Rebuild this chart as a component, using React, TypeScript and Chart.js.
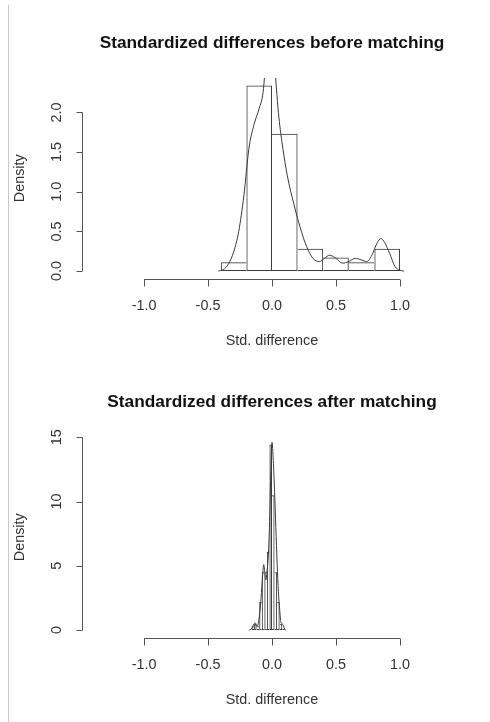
import React, { useEffect, useRef } from 'react';
import { Chart, registerables } from 'chart.js';

Chart.register(...registerables);

// ---------- data ----------
const xTickValues = [-1.0, -0.5, 0.0, 0.5, 1.0];

// Before matching
const beforeBreaks = [-0.4, -0.2, 0.0, 0.2, 0.4, 0.6, 0.8, 1.0];
const beforeDensity = [0.11, 2.34, 1.73, 0.28, 0.17, 0.11, 0.28];
const beforeCurveX = [
  -0.42, -0.38, -0.34, -0.30, -0.26, -0.22, -0.18, -0.14, -0.10, -0.07, -0.04, -0.01,
  0.02, 0.05, 0.08, 0.12, 0.17, 0.22, 0.27, 0.32, 0.37, 0.41, 0.45, 0.50, 0.55, 0.60,
  0.65, 0.70, 0.74, 0.78, 0.82, 0.85, 0.88, 0.92, 0.96, 1.00, 1.03,
];
const beforeCurveY = [
  0.0, 0.02, 0.09, 0.24, 0.50, 0.95, 1.55, 1.85, 2.05, 2.25, 2.8, 3.1,
  2.6, 2.0, 1.6, 1.2, 0.85, 0.55, 0.31, 0.16, 0.12, 0.16, 0.2, 0.16, 0.10, 0.12,
  0.16, 0.14, 0.12, 0.2, 0.35, 0.41, 0.36, 0.22, 0.06, 0.01, 0.0,
];
const beforeYTicks = [0.0, 0.5, 1.0, 1.5, 2.0];

// After matching
const afterBreaks = [
  -0.16, -0.14, -0.12, -0.10, -0.08, -0.06, -0.04, -0.02, 0.0, 0.02, 0.04, 0.06, 0.08, 0.10,
];
const afterDensity = [0.3, 0.5, 0.3, 2.2, 4.5, 4.5, 6.1, 14.45, 10.5, 4.5, 2.2, 0.5, 0.1];
const afterCurveX = [
  -0.18, -0.16, -0.14, -0.13, -0.12, -0.11, -0.10, -0.09, -0.08, -0.07, -0.065, -0.055,
  -0.047, -0.04, -0.03, -0.02, -0.01, 0.0, 0.01, 0.02, 0.03, 0.04, 0.05, 0.06, 0.07,
  0.08, 0.09, 0.10, 0.11,
];
const afterCurveY = [
  0.0, 0.1, 0.5, 0.55, 0.3, 0.4, 1.0, 1.9, 3.3, 4.7, 5.1, 4.4,
  3.9, 4.5, 5.6, 8.0, 12.0, 14.6, 13.2, 10.8, 8.0, 5.2, 3.0, 1.6, 0.6,
  0.5, 0.3, 0.05, 0.0,
];
const afterYTicks = [0, 5, 10, 15];

// ---------- helpers ----------
const FONT = '"Liberation Sans", Arial, Helvetica, sans-serif';

type PanelProps = {
  title: string;
  breaks: number[];
  density: number[];
  curveX: number[];
  curveY: number[];
  yTicks: number[];
  yDigits: number;
  top: number;
};

const rAxesPlugin = {
  id: 'rAxes',
  afterDraw(chart: any, _args: any, opts: any) {
    const { ctx, chartArea, scales } = chart;
    const xs = scales.x;
    const ys = scales.y;
    ctx.save();
    ctx.strokeStyle = '#555';
    ctx.lineWidth = 1;
    ctx.fillStyle = '#333';

    // X axis
    const xTicks: number[] = opts.xTicks;
    const ax = Math.round(chartArea.bottom) + 0.5;
    const x0 = xs.getPixelForValue(xTicks[0]);
    const x1 = xs.getPixelForValue(xTicks[xTicks.length - 1]);
    ctx.beginPath();
    ctx.moveTo(x0, ax);
    ctx.lineTo(x1, ax);
    xTicks.forEach((v) => {
      const px = Math.round(xs.getPixelForValue(v)) + 0.5;
      ctx.moveTo(px, ax);
      ctx.lineTo(px, ax + 7);
    });
    ctx.stroke();
    ctx.font = `14.4px ${FONT}`;
    ctx.textAlign = 'center';
    ctx.textBaseline = 'middle';
    xTicks.forEach((v) => {
      ctx.fillText(v.toFixed(1), xs.getPixelForValue(v), ax + 27);
    });
    ctx.fillText(opts.xTitle, (chartArea.left + chartArea.right) / 2, ax + 62);

    // Y axis
    const yTicks: number[] = opts.yTicks;
    const ay = Math.round(chartArea.left) + 0.5;
    const y0 = ys.getPixelForValue(yTicks[0]);
    const y1 = ys.getPixelForValue(yTicks[yTicks.length - 1]);
    ctx.beginPath();
    ctx.moveTo(ay, y0);
    ctx.lineTo(ay, y1);
    yTicks.forEach((v) => {
      const py = Math.round(ys.getPixelForValue(v)) + 0.5;
      ctx.moveTo(ay, py);
      ctx.lineTo(ay - 6, py);
    });
    ctx.stroke();
    yTicks.forEach((v) => {
      ctx.save();
      ctx.translate(ay - 25.5, ys.getPixelForValue(v));
      ctx.rotate(-Math.PI / 2);
      ctx.fillText(v.toFixed(opts.yDigits), 0, 0);
      ctx.restore();
    });
    ctx.save();
    ctx.translate(20, (chartArea.top + chartArea.bottom) / 2);
    ctx.rotate(-Math.PI / 2);
    ctx.fillText(opts.yTitle, 0, 0);
    ctx.restore();

    // Main title
    ctx.fillStyle = '#111';
    ctx.font = `bold 17.3px ${FONT}`;
    ctx.fillText(opts.title, (chartArea.left + chartArea.right) / 2, 43.5);
    ctx.restore();
  },
};

function Panel(props: PanelProps) {
  const ref = useRef<HTMLCanvasElement | null>(null);
  useEffect(() => {
    if (!ref.current) return;
    const { breaks, density, curveX, curveY } = props;
    const bars = density.map((h, i) => ({ x: (breaks[i] + breaks[i + 1]) / 2, y: h }));
    const curve = curveX.map((x, i) => ({ x, y: curveY[i] }));
    const ymax = Math.max(...density);
    const n = bars.length;
    // shared edges drawn once, by the taller neighbour (like R's rect outlines)
    const borderFor = (c: any) => {
      const i = c.dataIndex;
      const h = density[i];
      const left = i === 0 || h >= density[i - 1] ? 1 : 0;
      const right = i === n - 1 || h > density[i + 1] ? 1 : 0;
      return { top: 1, bottom: 1, left, right };
    };
    const chart = new Chart(ref.current, {
      type: 'bar',
      data: {
        datasets: [
          {
            type: 'line',
            data: curve,
            borderColor: '#3a3a3a',
            borderWidth: 1,
            pointRadius: 0,
            fill: false,
            cubicInterpolationMode: 'monotone',
            order: 1,
          } as any,
          {
            type: 'bar',
            data: bars,
            backgroundColor: 'rgba(0,0,0,0)',
            borderColor: '#3c3c3c',
            borderWidth: borderFor,
            borderSkipped: false,
            barPercentage: 1,
            categoryPercentage: 1,
            inflateAmount: 0,
            order: 2,
          } as any,
        ],
      },
      options: {
        animation: false,
        responsive: false,
        events: [],
        layout: { padding: { left: 81.7, right: 27.7, top: 78, bottom: 82.5 } },
        plugins: {
          legend: { display: false },
          tooltip: { enabled: false },
          title: { display: false },
          rAxes: {
            xTicks: xTickValues,
            yTicks: props.yTicks,
            yDigits: props.yDigits,
            title: props.title,
            xTitle: 'Std. difference',
            yTitle: 'Density',
          },
        } as any,
        scales: {
          x: {
            type: 'linear',
            display: false,
            offset: false,
            min: -1.487,
            max: 1.487,
            ticks: { maxTicksLimit: 3 },
          },
          y: {
            type: 'linear',
            display: false,
            min: -0.04 * ymax,
            max: 1.04 * ymax,
          },
        },
      },
      plugins: [rAxesPlugin],
    });
    return () => chart.destroy();
  }, []);
  return (
    <canvas
      ref={ref}
      width={490}
      height={361}
      style={{ position: 'absolute', left: 0, top: props.top, width: 490, height: 361, display: 'block' }}
    />
  );
}

export default function App() {
  return (
    <div
      style={{
        position: 'fixed',
        left: 0,
        top: 0,
        width: 490,
        height: 722,
        background: '#ffffff',
        overflow: 'hidden',
      }}
    >
      <div style={{ position: 'absolute', left: 8, top: 5, width: 1, height: 717, background: '#c8c8c8' }} />
      <Panel
        title="Standardized differences before matching"
        breaks={beforeBreaks}
        density={beforeDensity}
        curveX={beforeCurveX}
        curveY={beforeCurveY}
        yTicks={beforeYTicks}
        yDigits={1}
        top={0}
      />
      <Panel
        title="Standardized differences after matching"
        breaks={afterBreaks}
        density={afterDensity}
        curveX={afterCurveX}
        curveY={afterCurveY}
        yTicks={afterYTicks}
        yDigits={0}
        top={359}
      />
    </div>
  );
}
